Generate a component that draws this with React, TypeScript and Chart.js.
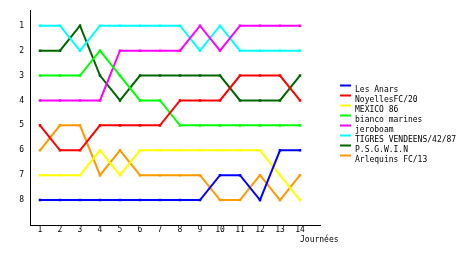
import React, { useEffect, useRef } from "react";
import { Chart, registerables } from "chart.js";

Chart.register(...registerables);

const journees = [1, 2, 3, 4, 5, 6, 7, 8, 9, 10, 11, 12, 13, 14];
const rankTicks = [1, 2, 3, 4, 5, 6, 7, 8];

const teams = [
  "Les Anars",
  "NoyellesFC/20",
  "MEXICO 86",
  "bianco marines",
  "jeroboam",
  "TIGRES VENDEENS/42/87",
  "P.S.G.W.I.N",
  "Arlequins FC/13",
];

const lesAnars = [8, 8, 8, 8, 8, 8, 8, 8, 8, 7, 7, 8, 6, 6];
const noyelles = [5, 6, 6, 5, 5, 5, 5, 4, 4, 4, 3, 3, 3, 4];
const mexico86 = [7, 7, 7, 6, 7, 6, 6, 6, 6, 6, 6, 6, 7, 8];
const bianco = [3, 3, 3, 2, 3, 4, 4, 5, 5, 5, 5, 5, 5, 5];
const jeroboam = [4, 4, 4, 4, 2, 2, 2, 2, 1, 2, 1, 1, 1, 1];
const tigres = [1, 1, 2, 1, 1, 1, 1, 1, 2, 1, 2, 2, 2, 2];
const psgwin = [2, 2, 1, 3, 4, 3, 3, 3, 3, 3, 4, 4, 4, 3];
const arlequins = [6, 5, 5, 7, 6, 7, 7, 7, 7, 8, 8, 7, 8, 7];

const series = [lesAnars, noyelles, mexico86, bianco, jeroboam, tigres, psgwin, arlequins];
const colors = ["#0000ff", "#ff0000", "#ffff00", "#00ff00", "#ff00ff", "#00ffff", "#006600", "#ff9900"];

const xAxisTitle = "Journées";
const FONT = "'DejaVu Sans Mono', monospace";

export default function App() {
  const ref = useRef<HTMLCanvasElement | null>(null);

  useEffect(() => {
    document.body.style.margin = "0";
    const canvas = ref.current;
    if (!canvas) return;

    const overlay = {
      id: "overlay",
      afterDraw(chart: any) {
        const ctx = chart.ctx;
        const xScale = chart.scales.x;
        ctx.save();
        ctx.font = `8px ${FONT}`;
        ctx.fillStyle = "#000";
        ctx.textBaseline = "middle";
        // x tick labels
        ctx.textAlign = "center";
        journees.forEach((j) => {
          ctx.fillText(String(j), xScale.getPixelForValue(j), xScale.top + 5);
        });
        ctx.textAlign = "left";
        // x axis title
        ctx.fillText(xAxisTitle, 300, 240);
        // legend
        chart.data.datasets.forEach((ds: any, i: number) => {
          const yText = 89.5 + i * 10;
          ctx.fillStyle = ds.borderColor;
          ctx.fillRect(340, yText - 5, 11, 2);
          ctx.fillStyle = "#000";
          ctx.fillText(ds.label, 355, yText);
        });
        ctx.restore();
      },
    };

    const chart = new Chart(canvas, {
      type: "line",
      data: {
        datasets: teams.map((name, i) => ({
          label: name,
          data: journees.map((j, k) => ({ x: j, y: series[i][k] })),
          borderColor: colors[i],
          backgroundColor: colors[i],
          borderWidth: 2,
          pointStyle: "rect",
          pointRadius: 1.8,
          pointBorderWidth: 0,
          tension: 0,
          fill: false,
        })),
      },
      options: {
        animation: false,
        responsive: false,
        devicePixelRatio: 1,
        layout: { padding: { left: 0, right: 140, top: 10, bottom: 0 } },
        plugins: {
          legend: { display: false },
          tooltip: { enabled: false },
        },
        scales: {
          x: {
            type: "linear",
            min: 0.5,
            max: 15,
            grid: { display: false, drawTicks: false },
            border: { display: true, color: "#000", width: 1 },
            afterBuildTicks: (scale: any) => {
              scale.ticks = journees.map((v) => ({ value: v }));
            },
            afterFit: (scale: any) => {
              scale.height = 30;
            },
            ticks: { display: false },
          },
          y: {
            type: "linear",
            reverse: true,
            min: 0.4,
            max: 9,
            grid: { display: false, drawTicks: false },
            border: { display: true, color: "#000", width: 1 },
            afterBuildTicks: (scale: any) => {
              scale.ticks = rankTicks.map((v) => ({ value: v }));
            },
            afterFit: (scale: any) => {
              scale.width = 30;
            },
            ticks: {
              color: "#000",
              font: { family: FONT, size: 8 },
              padding: 6,
              autoSkip: false,
            },
          },
        },
      },
      plugins: [overlay],
    } as any);

    return () => chart.destroy();
  }, []);

  return <canvas ref={ref} width={460} height={255} style={{ display: "block" }} />;
}
